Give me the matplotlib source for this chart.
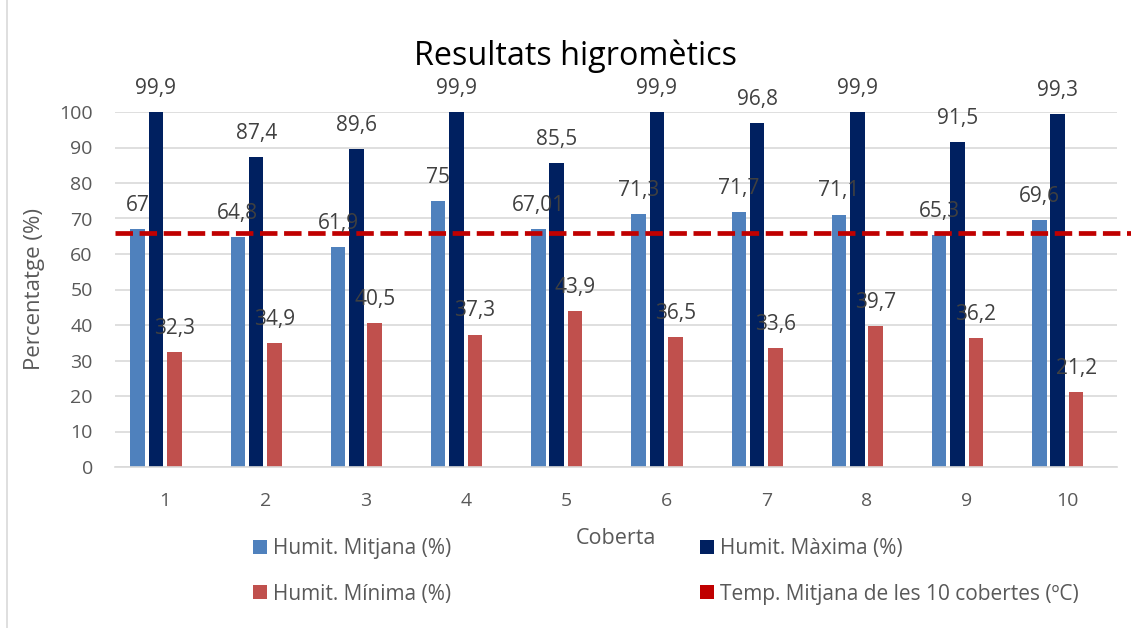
import matplotlib
matplotlib.use("Agg")
import matplotlib.pyplot as plt
from matplotlib.patches import Rectangle, Patch
import numpy as np

categories = ["1", "2", "3", "4", "5", "6", "7", "8", "9", "10"]
humit_mitjana = [67, 64.8, 61.9, 75, 67.01, 71.3, 71.7, 71.1, 65.3, 69.6]
humit_maxima = [99.9, 87.4, 89.6, 99.9, 85.5, 99.9, 96.8, 99.9, 91.5, 99.3]
humit_minima = [32.3, 34.9, 40.5, 37.3, 43.9, 36.5, 33.6, 39.7, 36.2, 21.2]
temp_mitjana_line = 65.8
y_ticks = [0, 10, 20, 30, 40, 50, 60, 70, 80, 90, 100]

series_names = ["Humit. Mitjana (%)", "Humit. Màxima (%)", "Humit. Mínima (%)",
                "Temp. Mitjana de les 10 cobertes (ºC)"]
colors = ["#4F81BD", "#002060", "#C0504D", "#C00000"]

plt.rcParams['font.family'] = ['Open Sans', 'DejaVu Sans']

W, H = 1131, 628
fig = plt.figure(figsize=(W / 100, H / 100), dpi=100)
fig.patch.set_facecolor("white")

# outer border (top and left visible)
fig.add_artist(Rectangle((7 / W, -0.2), 1.5, 1.2 + (1 - 13 / H), transform=fig.transFigure,
                         fill=False, edgecolor="#D9D9D9", lw=1.2))

ax = fig.add_axes([115 / W, 1 - 467 / H, (1117 - 115) / W, (467 - 112) / H])
x = np.arange(len(categories))
slot = 0.183
bw = 0.145
data = [humit_mitjana, humit_maxima, humit_minima]
for j, vals in enumerate(data):
    xs = x + (j - 1.5) * slot
    ax.bar(xs, vals, width=bw, color=colors[j], zorder=2, edgecolor="none")
    for xi, v in zip(xs, vals):
        ax.annotate(f"{v:g}".replace(".", ","), (xi, v), xytext=(0, 17),
                    textcoords="offset points", ha="center", va="center",
                    fontsize=15, color="#404040", zorder=5)

ax.axhline(temp_mitjana_line, xmin=0, xmax=1.03, color=colors[3], lw=3.4,
           linestyle=(0, (3.7, 1.4)), clip_on=False, zorder=4)

ax.set_xlim(-0.5, len(categories) - 0.5)
ax.set_ylim(0, 100)
ax.set_yticks(y_ticks)
ax.set_xticks(x)
ax.set_xticklabels(categories)
ax.tick_params(axis="both", length=0, labelsize=14, colors="#595959")
ax.tick_params(axis="x", pad=18)
ax.tick_params(axis="y", pad=16)
ax.grid(axis="y", color="#D9D9D9", lw=1.2, zorder=0)
ax.set_axisbelow(True)
for s in ["top", "right", "left"]:
    ax.spines[s].set_visible(False)
ax.spines["bottom"].set_color("#D9D9D9")
ax.spines["bottom"].set_linewidth(1.2)

ax.set_ylabel("Percentatge (%)", fontsize=16, color="#595959", va="center")
ax.yaxis.set_label_coords((35 - 115) / 1002, 0.5)
ax.set_xlabel("Coberta", fontsize=15.5, color="#595959", va="center")
ax.xaxis.set_label_coords(0.5, (467 - 538) / 355)

fig.text(575 / W, 1 - 56 / H, "Resultats higromètics", ha="center", va="center",
         fontsize=23.3, color="#000000")

handles = [Patch(facecolor=c) for c in colors]
leg_kw = dict(frameon=False, fontsize=15, handlelength=0.67, handleheight=0.67,
              handletextpad=0.3, labelspacing=1.16, borderpad=0, borderaxespad=0,
              labelcolor="#595959", loc="center left")
fig.legend([handles[0], handles[2]], [series_names[0], series_names[2]],
           bbox_to_anchor=(253 / W, 1 - 571.5 / H), **leg_kw)
fig.legend([handles[1], handles[3]], [series_names[1], series_names[3]],
           bbox_to_anchor=(700 / W, 1 - 571.5 / H), **leg_kw)

fig.savefig("out.png", dpi=100)
